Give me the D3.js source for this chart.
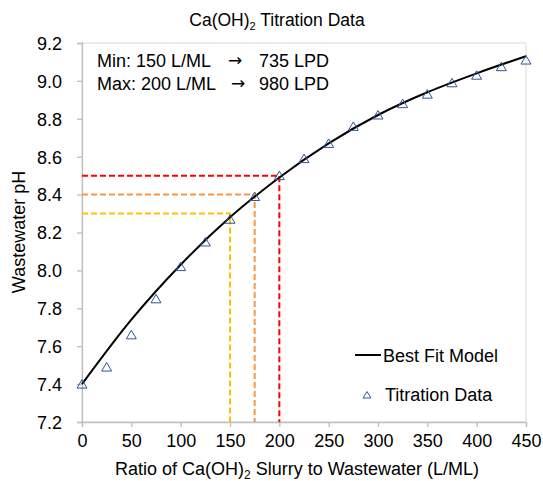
<!DOCTYPE html>
<html lang="en">
  <head>
    <title>Ca(OH)2 Titration Data</title>
    <meta charset="utf-8"/>
    <script type="text/javascript" src="https://cdn.jsdelivr.net/npm/d3@7"></script>
    <style>
     body { margin: 0; background: white; }
     text { font-family: "Liberation Sans", Arial, sans-serif; fill: #000; }
     text.arrow { font-family: "DejaVu Sans", sans-serif; }
    </style>
  </head>
  <body>
    <script type="text/javascript">
     // data -------------------------------------------------------------------------------
     let ratio = [0, 25, 50, 75, 100, 125, 150, 175, 200, 225,
                  250, 275, 300, 325, 350, 375, 400, 425, 450];
     let phData = [7.40, 7.49, 7.66, 7.85, 8.02, 8.15, 8.27, 8.39, 8.50, 8.59,
                   8.67, 8.76, 8.82, 8.88, 8.93, 8.99, 9.03, 9.075, 9.11];

     // best fit model, every 50 L/ML
     let fitX = [0, 50, 100, 150, 200, 250, 300, 350, 400, 450];
     let fitY = [7.40, 7.74, 8.03, 8.28, 8.49, 8.67, 8.82, 8.94, 9.04, 9.13];

     // guide lines: [ratio, pH, colour]
     let guides = [[150, 8.3, "#FFC000"], [175, 8.4, "#F79646"], [200, 8.5, "#FF0000"]];

     let xTicks = [0, 50, 100, 150, 200, 250, 300, 350, 400, 450];
     let yTicks = [7.2, 7.4, 7.6, 7.8, 8.0, 8.2, 8.4, 8.6, 8.8, 9.0, 9.2];

     // svg --------------------------------------------------------------------------------
     let w = 543;
     let h = 481;
     let pLeft = 82, pRight = 526, pTop = 43, pBottom = 422;

     let svg = d3.select("body").append("svg")
                 .attr("width", w)
                 .attr("height", h)
                 .style("display", "block");

     let x = d3.scaleLinear().domain([0, 450]).range([pLeft, pRight]);
     let y = d3.scaleLinear().domain([7.2, 9.2]).range([pBottom, pTop]);

     // plot area border
     svg.append("rect")
        .attr("x", pLeft)
        .attr("y", pTop)
        .attr("width", pRight - pLeft)
        .attr("height", pBottom - pTop)
        .attr("fill", "none")
        .attr("stroke", "#D9D9D9")
        .attr("stroke-width", 1);

     // axes
     let xAxis = svg.append("g")
                    .attr("transform", "translate(0," + pBottom + ")")
                    .call(d3.axisBottom(x).tickValues(xTicks).tickSize(5).tickPadding(7));
     let yAxis = svg.append("g")
                    .attr("transform", "translate(" + pLeft + ",0)")
                    .call(d3.axisLeft(y).tickValues(yTicks).tickSize(5).tickPadding(15)
                            .tickFormat(d3.format(".1f")));

     [xAxis, yAxis].forEach(a => {
       a.selectAll("path, line").attr("stroke", "#BFBFBF").attr("stroke-width", 1.3);
       a.selectAll("text").style("font-size", "18px").attr("font-family", null);
     });
     yAxis.selectAll("text").attr("dy", "0.35em");

     // guide lines -------------------------------------------------------------------------
     svg.selectAll("path.guide")
        .data(guides)
        .enter()
        .append("path")
        .attr("class", "guide")
        .attr("d", d => "M" + x(0) + "," + y(d[1]) + "H" + x(d[0]) + "V" + y(7.2))
        .attr("fill", "none")
        .attr("stroke", d => d[2])
        .attr("stroke-width", 2)
        .attr("stroke-dasharray", "6,3");

     // best fit curve
     let fitPts = fitX.map((v, i) => [v, fitY[i]]);
     svg.append("path")
        .datum(fitPts)
        .attr("d", d3.line().x(d => x(d[0])).y(d => y(d[1])).curve(d3.curveMonotoneX))
        .attr("fill", "none")
        .attr("stroke", "black")
        .attr("stroke-width", 2);

     // titration points
     let tri = "M0,-4.5L5,4L-5,4Z";
     svg.selectAll("path.pt")
        .data(ratio)
        .enter()
        .append("path")
        .attr("class", "pt")
        .attr("d", tri)
        .attr("transform", (d, i) => "translate(" + x(d) + "," + y(phData[i]) + ")")
        .attr("fill", "none")
        .attr("stroke", "#2F5597")
        .attr("stroke-width", 1);

     // texts --------------------------------------------------------------------------------
     let title = svg.append("text")
                    .attr("x", 277)
                    .attr("y", 26)
                    .attr("text-anchor", "middle")
                    .style("font-size", "17.5px");
     title.append("tspan").text("Ca(OH)");
     title.append("tspan").text("2").style("font-size", "11px").attr("dy", 4);
     title.append("tspan").text(" Titration Data").attr("dy", -4);

     let xTitle = svg.append("text")
                     .attr("x", 297)
                     .attr("y", 475)
                     .attr("text-anchor", "middle")
                     .style("font-size", "18px");
     xTitle.append("tspan").text("Ratio of Ca(OH)");
     xTitle.append("tspan").text("2").style("font-size", "12px").attr("dy", 4);
     xTitle.append("tspan").text(" Slurry to Wastewater (L/ML)").attr("dy", -4);

     svg.append("text")
        .attr("transform", "translate(25,232) rotate(-90)")
        .attr("text-anchor", "middle")
        .style("font-size", "18px")
        .text("Wastewater pH");

     // min / max note
     let notes = [["Min: 150 L/ML", "735 LPD", 67, 228], ["Max: 200 L/ML", "980 LPD", 90, 231]];
     notes.forEach(n => {
       svg.append("text").attr("x", 97).attr("y", n[2]).style("font-size", "18px").text(n[0]);
       svg.append("text").attr("class", "arrow").attr("x", n[3]).attr("y", n[2] - 1)
          .style("font-size", "17px").text("\u2192");
       svg.append("text").attr("x", 259).attr("y", n[2]).style("font-size", "18px").text(n[1]);
     });

     // legend
     svg.append("line")
        .attr("x1", 355).attr("x2", 381)
        .attr("y1", 355).attr("y2", 355)
        .attr("stroke", "black")
        .attr("stroke-width", 2);
     svg.append("text").attr("x", 383).attr("y", 362).style("font-size", "18px").text("Best Fit Model");
     svg.append("path")
        .attr("d", "M0,-3.5L4,3L-4,3Z")
        .attr("transform", "translate(367,395)")
        .attr("fill", "none")
        .attr("stroke", "#2F5597");
     svg.append("text").attr("x", 385).attr("y", 401).style("font-size", "18px").text("Titration Data");
    </script>
  </body>
</html>
